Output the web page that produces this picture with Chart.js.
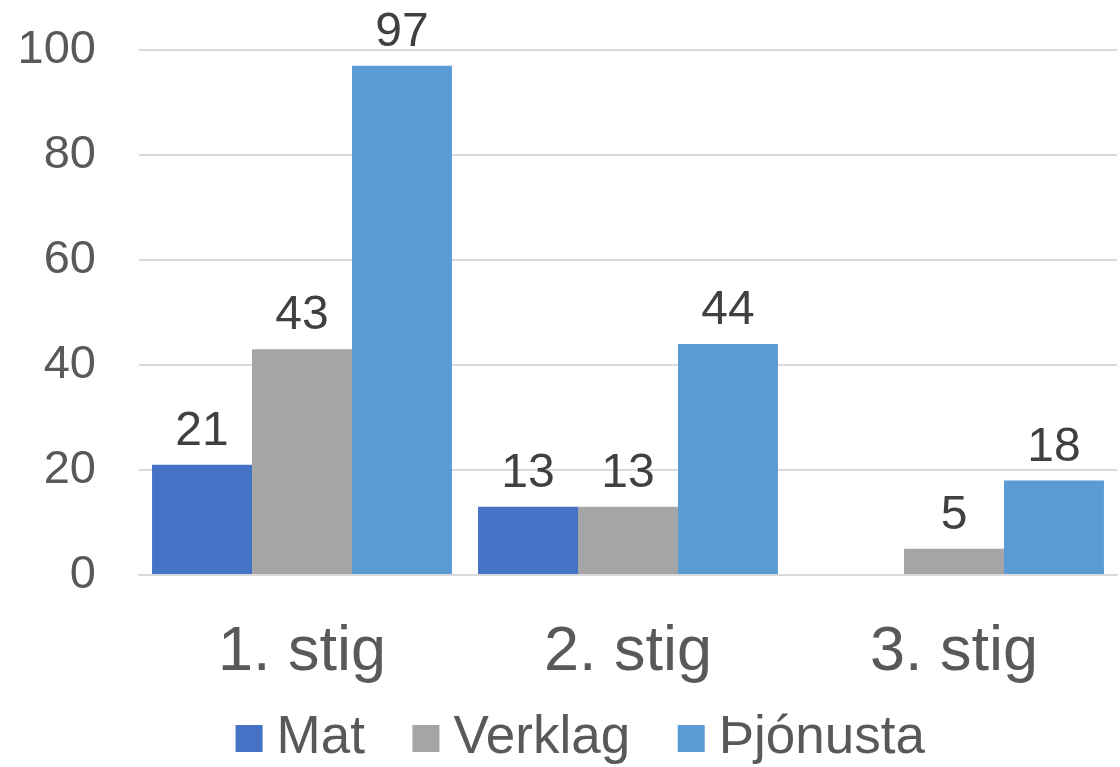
<!DOCTYPE html>
<html>
<head>
<meta charset="utf-8">
<script src="https://cdn.jsdelivr.net/npm/chart.js@4"></script>
<style>
  html, body { margin: 0; padding: 0; background: #fff; }
  #wrap { width: 1120px; height: 767px; }
</style>
</head>
<body>
<div id="wrap"><canvas id="chart"></canvas></div>
<script>
// data
const categories = ['1. stig', '2. stig', '3. stig'];
const matValues = [21, 13, null];
const verklagValues = [43, 13, 5];
const thjonustaValues = [97, 44, 18];
const yTicks = [0, 20, 40, 60, 80, 100];

// draws the number above each bar
const barLabels = {
  id: 'barLabels',
  afterDatasetsDraw(chart) {
    const ctx = chart.ctx;
    ctx.save();
    ctx.font = '48px "Liberation Sans", Arial, sans-serif';
    ctx.fillStyle = '#404040';
    ctx.textAlign = 'center';
    ctx.textBaseline = 'alphabetic';
    chart.data.datasets.forEach((ds, i) => {
      const meta = chart.getDatasetMeta(i);
      meta.data.forEach((bar, j) => {
        const v = ds.data[j];
        if (v == null) return;
        ctx.fillText(String(v), bar.x, bar.y - 20);
      });
    });
    ctx.restore();
  }
};

// let tick labels spill outside their scale box
const noLabelClip = scale => { scale._computeLabelArea = () => undefined; };

new Chart(document.getElementById('chart'), {
  type: 'bar',
  data: {
    labels: categories,
    datasets: [
      { label: 'Mat', data: matValues, backgroundColor: '#4472C4' },
      { label: 'Verklag', data: verklagValues, backgroundColor: '#A5A5A5' },
      { label: 'Þjónusta', data: thjonustaValues, backgroundColor: '#5B9BD5' }
    ]
  },
  options: {
    responsive: true,
    maintainAspectRatio: false,
    animation: false,
    layout: { padding: { top: 50, right: 3, left: 56, bottom: -8 } },
    datasets: { bar: { categoryPercentage: 0.92, barPercentage: 1 } },
    plugins: {
      legend: {
        position: 'bottom',
        labels: {
          color: '#595959',
          font: { family: '"Liberation Sans", Arial, sans-serif', size: 53 },
          usePointStyle: true,
          pointStyle: 'rect',
          boxWidth: 2,
          boxHeight: 27,
          padding: 60
        }
      },
      tooltip: { enabled: false }
    },
    scales: {
      x: {
        afterFit(scale) { scale.height = 77; scale.paddingLeft = 0; scale.paddingRight = 0; noLabelClip(scale); },
        grid: { display: false, drawTicks: false },
        border: { color: '#d9d9d9', width: 2 },
        ticks: {
          color: '#595959',
          font: { family: '"Liberation Sans", Arial, sans-serif', size: 63 },
          padding: 40
        }
      },
      y: {
        min: 0,
        max: 100,
        afterBuildTicks(scale) { scale.ticks = yTicks.map(v => ({ value: v })); },
        afterFit(scale) { scale.width = 83; scale.paddingTop = 0; scale.paddingBottom = 0; noLabelClip(scale); },
        grid: { color: '#d9d9d9', lineWidth: 2, drawTicks: false },
        border: { display: false },
        ticks: {
          color: '#595959',
          font: { family: '"Liberation Sans", Arial, sans-serif', size: 47 },
          padding: 43
        }
      }
    }
  },
  plugins: [barLabels]
});
</script>
</body>
</html>
